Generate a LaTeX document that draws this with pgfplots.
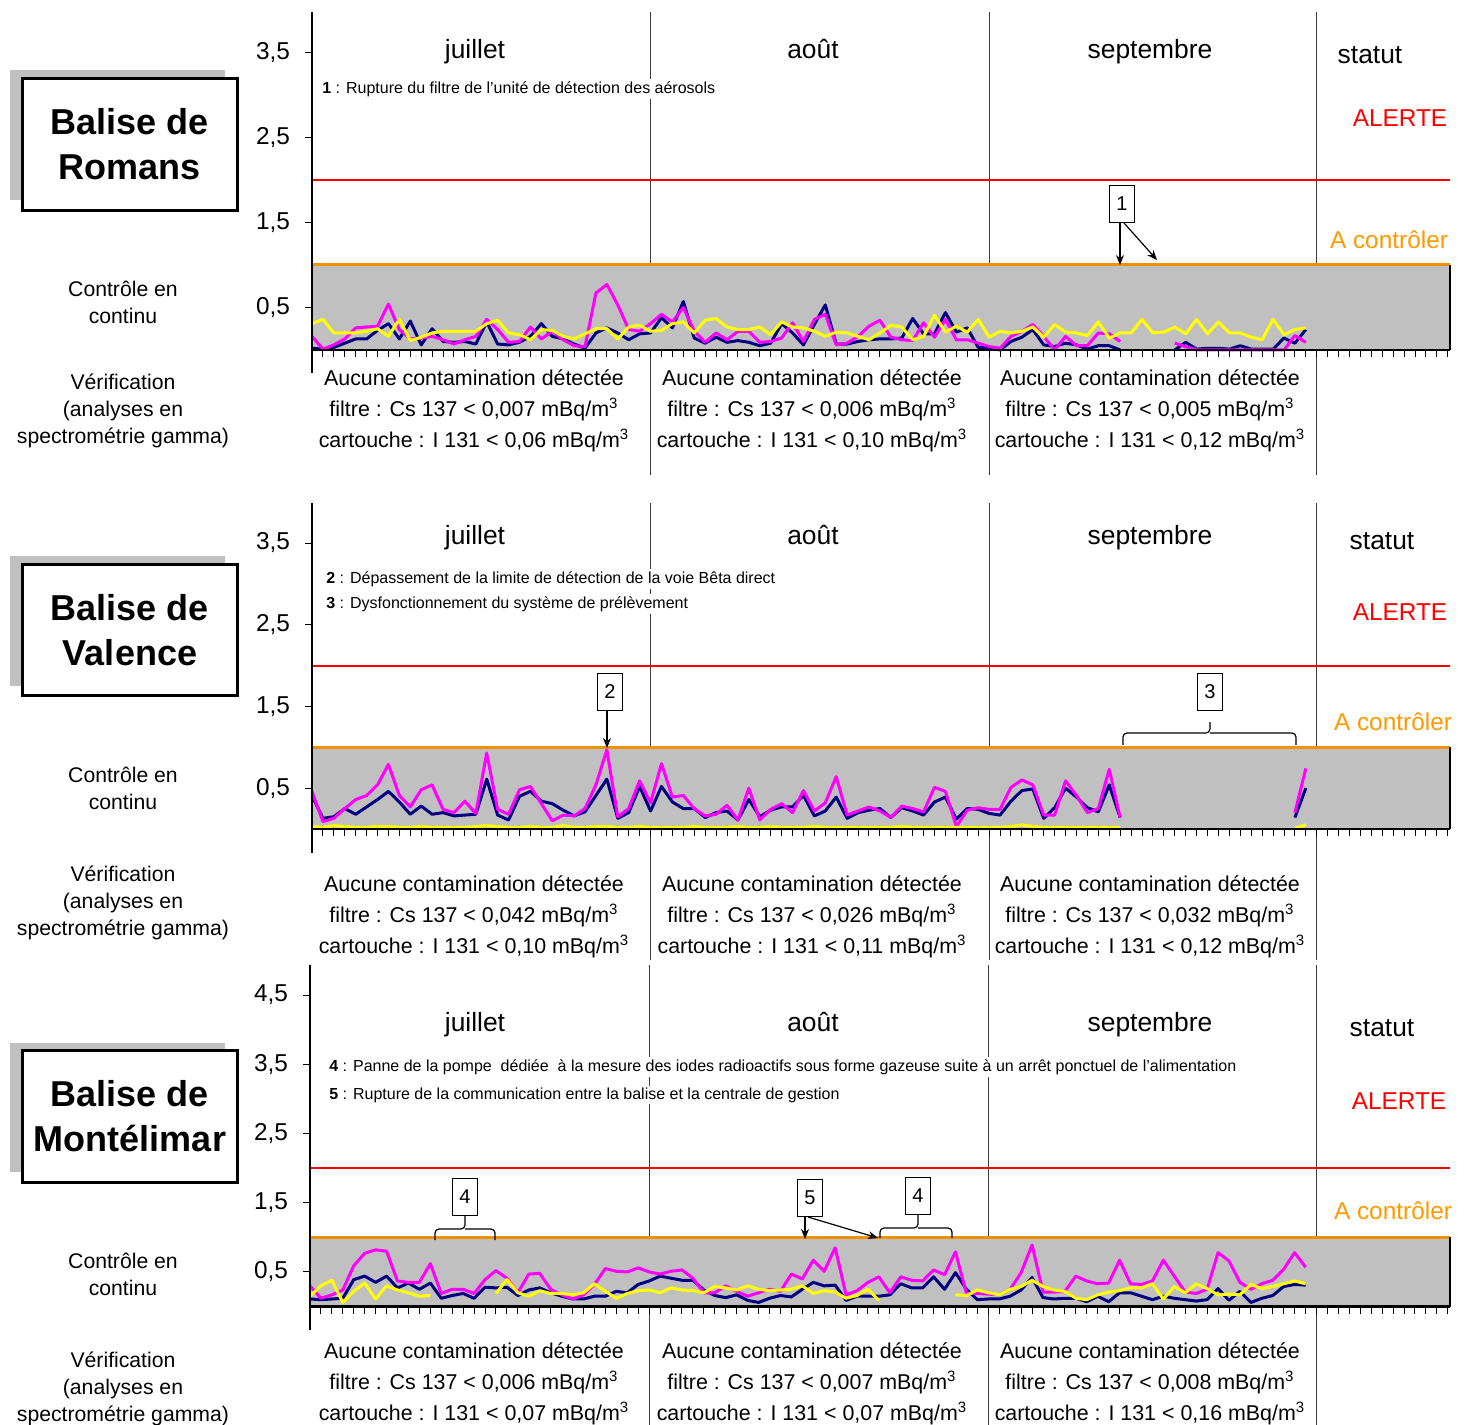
\documentclass[border=0pt]{standalone}
\usepackage{fontspec}
\setmainfont{Liberation Sans}
\usepackage{pgfplots}
\pgfplotsset{compat=1.18}
\usepackage{pgfplotstable}
\usetikzlibrary{arrows.meta}

\definecolor{navyc}{RGB}{0,0,128}
\definecolor{magc}{RGB}{255,0,255}
\definecolor{yelc}{RGB}{255,255,0}
\definecolor{grayc}{RGB}{192,192,192}
\definecolor{orangel}{RGB}{240,145,0}
\definecolor{orangetxt}{RGB}{255,153,0}
\definecolor{redc}{RGB}{255,0,0}
\definecolor{sepc}{RGB}{60,60,60}

\pgfplotstableread{
d n m y
0 0.02 0.16 0.31
1 0.01 0.01 0.36
2 0.03 0.06 0.20
3 0.08 0.13 0.20
4 0.13 0.26 0.20
5 0.13 0.27 0.22
6 0.23 0.28 0.25
7 0.31 0.54 0.16
8 0.13 0.24 0.36
9 0.34 0.13 0.11
10 0.06 0.14 0.15
11 0.25 0.16 0.20
12 0.10 0.12 0.22
13 0.09 0.07 0.22
14 0.10 0.12 0.22
15 0.07 0.16 0.22
16 0.33 0.36 0.31
17 0.07 0.24 0.35
18 0.06 0.09 0.20
19 0.09 0.10 0.18
20 0.16 0.27 0.12
21 0.31 0.13 0.24
22 0.16 0.22 0.23
23 0.13 0.12 0.16
24 0.07 0.05 0.13
25 0.02 0.04 0.19
26 0.20 0.67 0.25
27 0.26 0.77 0.25
28 0.20 0.53 0.13
29 0.12 0.24 0.27
30 0.19 0.22 0.29
31 0.20 0.31 0.22
32 0.38 0.42 0.23
33 0.26 0.33 0.31
34 0.57 0.50 0.33
35 0.14 0.22 0.20
36 0.08 0.09 0.35
37 0.15 0.20 0.37
38 0.09 0.12 0.27
39 0.11 0.22 0.24
40 0.09 0.22 0.24
41 0.05 0.09 0.27
42 0.08 0.10 0.18
43 0.31 0.14 0.33
44 0.20 0.32 0.27
45 0.06 0.10 0.26
46 0.30 0.36 0.22
47 0.53 0.42 0.16
48 0.07 0.06 0.21
49 0.07 0.08 0.20
50 0.10 0.16 0.16
51 0.12 0.28 0.12
52 0.13 0.35 0.20
53 0.13 0.15 0.29
54 0.14 0.12 0.27
55 0.37 0.11 0.12
56 0.19 0.32 0.16
57 0.19 0.15 0.41
58 0.44 0.36 0.21
59 0.21 0.12 0.28
60 0.26 0.12 0.21
61 0.03 0.08 0.36
62 0.03 0.04 0.15
63 0.00 0.02 0.22
64 0.10 0.16 0.20
65 0.15 0.22 0.22
66 0.24 0.30 0.27
67 0.06 0.16 0.15
68 0.04 0.00 0.30
69 0.08 0.16 0.21
70 0.06 0.05 0.20
71 0.01 0.05 0.17
72 0.05 0.20 0.33
73 0.05 0.19 0.14
74 0.00 0.10 0.20
75 nan nan 0.20
76 nan nan 0.36
77 nan nan 0.20
78 nan nan 0.21
79 0.00 0.08 0.27
80 0.09 0.04 0.19
81 0.01 0.00 0.36
82 0.02 0.00 0.19
83 0.02 0.00 0.33
84 0.01 0.00 0.20
85 0.05 0.00 0.20
86 0.01 0.00 0.15
87 0.01 0.00 0.12
88 0.01 0.00 0.36
89 0.14 0.00 0.18
90 0.08 0.17 0.24
91 0.24 0.09 0.26
}\romans

\pgfplotstableread{
d n m y
0 0.41 0.46 0.03
1 0.13 0.09 0.02
2 0.15 0.13 0.04
3 0.25 0.25 0.03
4 0.18 0.36 0.02
5 0.27 0.41 0.02
6 0.36 0.54 0.03
7 0.46 0.79 0.03
8 0.33 0.41 0.02
9 0.18 0.27 0.02
10 0.28 0.48 0.03
11 0.18 0.54 0.02
12 0.20 0.24 0.02
13 0.16 0.20 0.02
14 0.17 0.34 0.02
15 0.18 0.19 0.03
16 0.61 0.93 0.04
17 0.17 0.24 0.03
18 0.11 0.18 0.02
19 0.40 0.48 0.02
20 0.46 0.52 0.03
21 0.34 0.31 0.02
22 0.31 0.10 0.02
23 0.23 0.17 0.04
24 0.16 0.16 0.02
25 0.21 0.25 0.02
26 0.41 0.54 0.03
27 0.61 0.97 0.03
28 0.13 0.15 0.02
29 0.20 0.25 0.02
30 0.52 0.59 0.03
31 0.22 0.32 0.02
32 0.52 0.80 0.02
33 0.33 0.39 0.02
34 0.25 0.41 0.02
35 0.25 0.25 0.03
36 0.14 0.16 0.02
37 0.20 0.18 0.02
38 0.22 0.29 0.02
39 0.11 0.11 0.03
40 0.36 0.50 0.02
41 0.15 0.11 0.02
42 0.23 0.24 0.03
43 0.27 0.31 0.02
44 0.27 0.20 0.02
45 0.41 0.47 0.02
46 0.16 0.22 0.03
47 0.22 0.32 0.02
48 0.39 0.64 0.02
49 0.13 0.17 0.02
50 0.20 0.22 0.02
51 0.23 0.27 0.02
52 0.25 0.22 0.02
53 0.14 0.14 0.02
54 0.26 0.28 0.03
55 0.22 0.25 0.02
56 0.17 0.21 0.02
57 0.33 0.51 0.02
58 0.39 0.46 0.02
59 0.12 0.03 0.02
60 0.25 0.23 0.02
61 0.24 0.26 0.02
62 0.19 0.24 0.02
63 0.17 0.24 0.02
64 0.34 0.51 0.03
65 0.47 0.60 0.05
66 0.49 0.54 0.03
67 0.13 0.17 0.02
68 0.26 0.17 0.02
69 0.50 0.59 0.02
70 0.39 0.41 0.02
71 0.26 0.20 0.02
72 0.21 0.25 0.02
73 0.54 0.73 0.02
74 0.14 0.14 0.02
75 nan nan nan
76 nan nan nan
77 nan nan nan
78 nan nan nan
79 nan nan nan
80 nan nan nan
81 nan nan nan
82 nan nan nan
83 nan nan nan
84 nan nan nan
85 nan nan nan
86 nan nan nan
87 nan nan nan
88 nan nan nan
89 nan nan nan
90 0.14 0.20 0.01
91 0.50 0.74 0.05
}\valence

\pgfplotstableread{
d n m y
0 0.11 0.30 0.15
1 0.10 0.12 0.30
2 0.11 0.17 0.38
3 0.12 0.24 0.06
4 0.39 0.59 0.22
5 0.44 0.77 0.34
6 0.35 0.82 0.11
7 0.44 0.80 0.30
8 0.27 0.37 0.24
9 0.34 0.35 0.20
10 0.25 0.35 0.15
11 0.34 0.62 0.16
12 0.12 0.19 nan
13 0.16 0.25 nan
14 0.19 0.25 nan
15 0.12 0.19 nan
16 0.28 0.39 nan
17 0.27 0.52 0.19
18 0.28 0.41 0.39
19 0.16 0.20 0.20
20 0.24 0.47 0.15
21 0.27 0.48 0.23
22 0.20 0.25 0.19
23 0.15 0.17 0.19
24 0.11 0.11 0.17
25 0.11 0.17 0.20
26 0.15 0.32 0.33
27 0.15 0.55 0.22
28 0.22 0.51 0.12
29 0.20 0.50 0.19
30 0.32 0.56 0.23
31 0.37 0.50 0.24
32 0.44 0.47 0.20
33 0.41 0.51 0.27
34 0.38 0.53 0.24
35 0.38 0.41 0.23
36 0.24 0.20 0.20
37 0.16 0.20 0.29
38 0.13 0.30 0.27
39 0.17 0.22 0.24
40 0.09 0.15 0.30
41 0.06 0.20 0.25
42 0.12 0.25 0.23
43 0.16 0.22 0.24
44 0.14 0.47 0.25
45 0.25 0.40 0.30
46 0.35 0.67 0.19
47 0.30 0.51 0.23
48 0.31 0.85 0.21
49 0.09 0.17 0.12
50 0.15 0.23 0.16
51 0.15 0.35 0.25
52 0.15 0.43 0.09
53 0.17 0.20 nan
54 0.33 0.43 nan
55 0.27 0.38 nan
56 0.27 0.37 nan
57 0.43 0.53 nan
58 0.25 0.46 nan
59 0.49 0.79 0.17
60 0.25 0.19 0.16
61 0.10 0.19 0.24
62 0.11 0.18 0.20
63 0.11 0.17 0.17
64 0.15 0.25 0.25
65 0.24 0.49 0.29
66 0.42 0.89 0.38
67 0.13 0.21 0.29
68 0.11 0.21 0.24
69 0.12 0.22 0.22
70 0.12 0.44 0.12
71 0.07 0.37 0.10
72 0.15 0.33 0.17
73 0.07 0.34 0.21
74 0.20 0.67 0.23
75 0.20 0.33 0.27
76 0.15 0.32 0.27
77 0.10 0.37 0.33
78 0.15 0.67 0.11
79 0.12 0.44 0.29
80 0.10 0.21 0.20
81 0.08 0.19 0.33
82 0.10 0.25 0.26
83 0.26 0.78 0.17
84 0.09 0.66 0.18
85 0.22 0.35 0.17
86 0.06 0.25 0.32
87 0.12 0.33 0.26
88 0.16 0.38 0.29
89 0.29 0.54 0.33
90 0.32 0.78 0.37
91 0.31 0.57 0.33
}\montelimar

\pgfplotsset{
  panel/.style={
    scale only axis, clip=false, axis on top,
    anchor=south west,
    xmin=0, xmax=104.2,
    axis x line=middle, axis y line=left,
    axis line style={-},
    every inner x axis line/.append style={-},
    x axis line style={-, line width=1.2pt, black},
    y axis line style={draw=none},
    xtick={0,1,...,104}, xticklabels={},
    tick align=outside,
    xtick align=outside,
    major tick length=3.5pt,
    tick style={black, line width=0.5pt},
    yticklabel style={font=\fontsize{12.2}{14}\selectfont, xshift=-4pt,
      /pgf/number format/.cd, fixed, fixed zerofill, precision=1, use comma, assume math mode=true},
    unbounded coords=jump,
  },
  ser/.style={line width=1.5pt, mark=none, line join=round},
}

\tikzset{
 lbl/.style={align=center, inner sep=0pt, font=\fontsize{10.6}{13.5}\selectfont},
 bot/.style={align=center, inner sep=0pt, font=\fontsize{10.7}{15.5}\selectfont},
 mon/.style={font=\fontsize{13.2}{15}\selectfont, inner sep=0pt, anchor=base},
 stat/.style={font=\fontsize{12.2}{14}\selectfont, inner sep=0pt},
 ann/.style={anchor=west, font=\fontsize{8}{9.5}\selectfont, fill=white, inner sep=1pt},
 num/.style={draw, line width=0.6pt, fill=white, minimum width=12.5pt, minimum height=18.5pt, inner sep=0pt, font=\fontsize{10}{12}\selectfont},
 bal/.style={align=center, font=\fontsize{18}{22.5}\selectfont\bfseries, inner sep=0pt},
 arr/.style={-{Stealth[length=5pt,width=4pt]}, line width=0.6pt, black},
}

\begin{document}
\begin{tikzpicture}
% ---------------- Panel 1 : Romans
\begin{axis}[panel, at={(156pt,-237.5pt)}, width=569pt, height=231.5pt,
  ymin=-1.471, ymax=3.976, ytick={0.5,1.5,2.5,3.5}]
 \draw[sepc, line width=0.5pt] (axis cs:31,-1.471) -- (axis cs:31,3.976);
 \draw[sepc, line width=0.5pt] (axis cs:62,-1.471) -- (axis cs:62,3.976);
 \draw[sepc, line width=0.5pt] (axis cs:92,-1.471) -- (axis cs:92,3.976);
 \fill[grayc] (axis cs:0,0) rectangle (axis cs:104.2,1);
 \draw[redc, line width=1pt] (axis cs:0,2) -- (axis cs:104.2,2);
 \addplot[ser, navyc] table[x=d, y=n] {\romans};
 \addplot[ser, magc] table[x=d, y=m] {\romans};
 \addplot[ser, yelc] table[x=d, y=y] {\romans};
 \draw[orangel, line width=1.5pt] (axis cs:0,1) -- (axis cs:104.2,1);
 \draw[black, line width=1.2pt] (axis cs:104.2,0) -- (axis cs:104.2,1);
 \draw[black, line width=0.7pt] (axis cs:0,3.976) -- (axis cs:0,-0.27);
\end{axis}
% ---------------- Panel 2 : Valence
\begin{axis}[panel, at={(156pt,-480pt)}, width=569pt, height=228.5pt,
  ymin=-1.604, ymax=3.99, ytick={0.5,1.5,2.5,3.5}]
 \draw[sepc, line width=0.5pt] (axis cs:31,-1.604) -- (axis cs:31,3.99);
 \draw[sepc, line width=0.5pt] (axis cs:62,-1.604) -- (axis cs:62,3.99);
 \draw[sepc, line width=0.5pt] (axis cs:92,-1.604) -- (axis cs:92,3.99);
 \fill[grayc] (axis cs:0,0) rectangle (axis cs:104.2,1);
 \draw[redc, line width=1pt] (axis cs:0,2) -- (axis cs:104.2,2);
 \addplot[ser, navyc] table[x=d, y=n] {\valence};
 \addplot[ser, magc] table[x=d, y=m] {\valence};
 \addplot[ser, yelc] table[x=d, y=y] {\valence};
 \draw[orangel, line width=1.5pt] (axis cs:0,1) -- (axis cs:104.2,1);
 \draw[black, line width=1.2pt] (axis cs:104.2,0) -- (axis cs:104.2,1);
 \draw[black, line width=0.7pt] (axis cs:0,3.99) -- (axis cs:0,-0.3);
\end{axis}
% ---------------- Panel 3 : Montelimar
\begin{axis}[panel, at={(155pt,-712.5pt)}, width=570pt, height=230pt,
  ymin=-1.71, ymax=4.933, ytick={0.5,1.5,2.5,3.5,4.5}]
 \draw[sepc, line width=0.5pt] (axis cs:31,-1.71) -- (axis cs:31,4.933);
 \draw[sepc, line width=0.5pt] (axis cs:62,-1.71) -- (axis cs:62,4.933);
 \draw[sepc, line width=0.5pt] (axis cs:92,-1.71) -- (axis cs:92,4.933);
 \fill[grayc] (axis cs:0,0) rectangle (axis cs:104.2,1);
 \draw[redc, line width=1pt] (axis cs:0,2) -- (axis cs:104.2,2);
 \addplot[ser, navyc] table[x=d, y=n] {\montelimar};
 \addplot[ser, magc] table[x=d, y=m] {\montelimar};
 \addplot[ser, yelc] table[x=d, y=y] {\montelimar};
 \draw[orangel, line width=1.5pt] (axis cs:0,1) -- (axis cs:104.2,1);
 \draw[black, line width=1.2pt] (axis cs:104.2,0) -- (axis cs:104.2,1);
 \draw[black, line width=0.7pt] (axis cs:0,4.933) -- (axis cs:0,-0.34);
\end{axis}

\begin{scope}[x=0.5pt, y=-0.5pt]
 % ---- Balise boxes
 \fill[grayc] (10,70) rectangle (225,200);
 \draw[line width=1.5pt, fill=white] (22,78) rectangle (237,210);
 \node[bal] at (130,144) {Balise de\\Romans};
 \fill[grayc] (10,556) rectangle (225,686);
 \draw[line width=1.5pt, fill=white] (22,564) rectangle (237,695);
 \node[bal] at (130,630) {Balise de\\Valence};
 \fill[grayc] (10,1043) rectangle (225,1172);
 \draw[line width=1.5pt, fill=white] (22,1050) rectangle (237,1182);
 \node[bal] at (130,1116) {Balise de\\Montélimar};
 % ---- left labels
 \node[lbl] at (123,302) {Contrôle en\\continu};
 \node[lbl] at (123,411) {Vérification\\(analyses en\\spectrométrie gamma)};
 \node[lbl] at (123,788.5) {Contrôle en\\continu};
 \node[lbl] at (123,903) {Vérification\\(analyses en\\spectrométrie gamma)};
 \node[lbl] at (123,1274.5) {Contrôle en\\continu};
 \node[lbl] at (123,1389) {Vérification\\(analyses en\\spectrométrie gamma)};
 % ---- months
 \foreach \yy in {58,544,1031}{
   \node[mon] at (475,\yy) {juillet};
   \node[mon] at (813,\yy) {août};
   \node[mon] at (1150,\yy) {septembre};
 }
 % ---- status
 \node[mon] at (1370,63) {statut};
 \node[stat, text=redc] at (1400,118) {ALERTE};
 \node[stat, text=orangetxt] at (1389,240) {A contrôler};
 \node[mon] at (1382,549) {statut};
 \node[stat, text=redc] at (1400,612) {ALERTE};
 \node[stat, text=orangetxt] at (1393,722) {A contrôler};
 \node[mon] at (1382,1036) {statut};
 \node[stat, text=redc] at (1399,1101) {ALERTE};
 \node[stat, text=orangetxt] at (1393,1211) {A contrôler};
 % ---- bottom texts panel 1
 \node[bot] at (474,411) {Aucune contamination détectée\\filtre : Cs 137 < 0,007 mBq/m\textsuperscript{3}\\cartouche : I 131 < 0,06 mBq/m\textsuperscript{3}};
 \node[bot] at (812,411) {Aucune contamination détectée\\filtre : Cs 137 < 0,006 mBq/m\textsuperscript{3}\\cartouche : I 131 < 0,10 mBq/m\textsuperscript{3}};
 \node[bot] at (1150,411) {Aucune contamination détectée\\filtre : Cs 137 < 0,005 mBq/m\textsuperscript{3}\\cartouche : I 131 < 0,12 mBq/m\textsuperscript{3}};
 % ---- panel 2
 \node[bot] at (474,917) {Aucune contamination détectée\\filtre : Cs 137 < 0,042 mBq/m\textsuperscript{3}\\cartouche : I 131 < 0,10 mBq/m\textsuperscript{3}};
 \node[bot] at (812,917) {Aucune contamination détectée\\filtre : Cs 137 < 0,026 mBq/m\textsuperscript{3}\\cartouche : I 131 < 0,11 mBq/m\textsuperscript{3}};
 \node[bot] at (1150,917) {Aucune contamination détectée\\filtre : Cs 137 < 0,032 mBq/m\textsuperscript{3}\\cartouche : I 131 < 0,12 mBq/m\textsuperscript{3}};
 % ---- panel 3
 \node[bot] at (474,1384) {Aucune contamination détectée\\filtre : Cs 137 < 0,006 mBq/m\textsuperscript{3}\\cartouche : I 131 < 0,07 mBq/m\textsuperscript{3}};
 \node[bot] at (812,1384) {Aucune contamination détectée\\filtre : Cs 137 < 0,007 mBq/m\textsuperscript{3}\\cartouche : I 131 < 0,07 mBq/m\textsuperscript{3}};
 \node[bot] at (1150,1384) {Aucune contamination détectée\\filtre : Cs 137 < 0,008 mBq/m\textsuperscript{3}\\cartouche : I 131 < 0,16 mBq/m\textsuperscript{3}};
 % ---- annotations
 \node[ann] at (320,89) {\textbf{1} : Rupture du filtre de l'unité de détection des aérosols};
 \node[ann] at (324,579) {\textbf{2} : Dépassement de la limite de détection de la voie Bêta direct};
 \node[ann] at (324,604) {\textbf{3} : Dysfonctionnement du système de prélèvement};
 \node[ann] at (327,1067) {\textbf{4} : Panne de la pompe\ \ dédiée\ \ à la mesure des iodes radioactifs sous forme gazeuse suite à un arrêt ponctuel de l'alimentation};
 \node[ann] at (327,1095) {\textbf{5} : Rupture de la communication entre la balise et la centrale de gestion};
 % ---- numbered boxes and arrows
 \draw[arr] (1120,223) -- (1120,265);
 \draw[arr] (1124,223) -- (1157,260);
 \node[num] at (1122,204) {1};
 \draw[arr] (607,711) -- (607,748);
 \node[num] at (610,692) {2};
 \draw[line width=0.6pt, rounded corners=2pt] (1123,745) -- (1123,733) -- (1210,733) -- (1210,722);
 \draw[line width=0.6pt, rounded corners=2pt] (1210,733) -- (1296,733) -- (1296,745);
 \node[num] at (1210,692) {3};
 \draw[line width=0.6pt, rounded corners=2pt] (435,1240) -- (435,1229) -- (465,1229) -- (465,1216);
 \draw[line width=0.6pt, rounded corners=2pt] (465,1229) -- (495,1229) -- (495,1240);
 \node[num] at (465,1197) {4};
 \draw[arr] (805,1217) -- (805,1239);
 \draw[arr] (808,1217) -- (878,1238);
 \node[num] at (810,1198) {5};
 \draw[line width=0.6pt, rounded corners=2pt] (880,1238) -- (880,1228) -- (918,1228) -- (918,1215);
 \draw[line width=0.6pt, rounded corners=2pt] (918,1228) -- (952,1228) -- (952,1238);
 \node[num] at (918,1196) {4};
\end{scope}
\pgfresetboundingbox
\path[use as bounding box] (0pt,0pt) rectangle (732pt,-712.5pt);
\end{tikzpicture}
\end{document}
